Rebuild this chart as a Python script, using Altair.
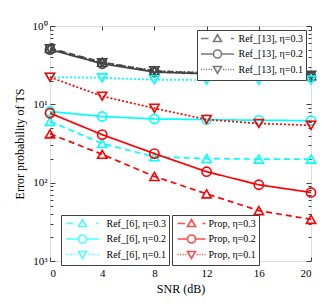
import altair as alt
import pandas as pd

# ---------------- data ----------------
snr = [0, 4, 8, 12, 16, 20]

ref13_labels = ["Ref_[13], η=0.3", "Ref_[13], η=0.2", "Ref_[13], η=0.1"]
ref13_03 = [0.52, 0.345, 0.265, 0.25, 0.243, 0.232]
ref13_02 = [0.50, 0.330, 0.258, 0.245, 0.238, 0.226]
ref13_01 = [0.51, 0.340, 0.268, 0.252, 0.246, 0.234]

ref6_labels = ["Ref_[6], η=0.3", "Ref_[6], η=0.2", "Ref_[6], η=0.1"]
ref6_03 = [0.0605, 0.0316, 0.0214, 0.0203, 0.0200, 0.0200]
ref6_02 = [0.081, 0.070, 0.065, 0.064, 0.0625, 0.062]
ref6_01 = [0.222, 0.218, 0.206, 0.204, 0.204, 0.204]

prop_labels = ["Prop, η=0.3", "Prop, η=0.2", "Prop, η=0.1"]
prop_03 = [0.042, 0.023, 0.012, 0.0072, 0.0044, 0.0034]
prop_02 = [0.077, 0.041, 0.0235, 0.0138, 0.0094, 0.0075]
prop_01 = [0.222, 0.127, 0.089, 0.064, 0.057, 0.054]

x_ticks = [0, 4, 8, 12, 16, 20]
y_major = [0.001, 0.01, 0.1, 1]
y_minor = [m * 10.0 ** e for e in (-3, -2, -1) for m in range(2, 10)]

# ---------------- styling ----------------
W, H = 261, 235
FONT = "Liberation Serif"
FRAME = "#404040"
RED, CYAN, GRAY = "#ff0000", "#00ffff", "#444444"
DASHES = [[6, 4], [1, 0], [2, 2]]
SHAPES = ["triangle-up", "circle", "triangle-down"]
LW = 1.7

tri_up = "M-0.8,0.6L0,-0.8L0.8,0.6Z"
tri_dn = "M-0.8,-0.6L0,0.8L0.8,-0.6Z"
circ = "M0.8,0A0.8,0.8,0,1,1,-0.8,0A0.8,0.8,0,1,1,0.8,0Z"


def legend_paths(hw):
    dash_line = f"M{-hw:.2f},0H{-hw + 1.5:.2f}M{hw - 0.6:.2f},0H{hw:.2f}"
    solid_line = f"M{-hw:.2f},0H-0.8M0.8,0H{hw:.2f}"
    dots = []
    v = -hw
    while v < -1.0:
        dots.append(v)
        v += 0.5
    dots += [-d - 0.22 for d in dots]
    dot_line = "".join(f"M{d:.2f},0h0.22" for d in dots)
    return [dash_line + tri_up, solid_line + circ, dot_line + tri_dn]


x_scale = alt.Scale(domain=[0, 20], nice=False, zero=False)
y_scale = alt.Scale(type="log", domain=[0.001, 1], nice=False)

DEC = "abs(log(datum.value)/LN10 - round(log(datum.value)/LN10)) < 0.001"

ax_x_main = alt.Axis(orient="bottom", values=x_ticks, ticks=False, domain=False, grid=False,
                     labelFont=FONT, labelFontSize=11, labelColor="black", labelPadding=6,
                     title="SNR (dB)", titleFont=FONT, titleFontSize=12, titleFontWeight="normal",
                     titleColor="black", titlePadding=5)
ax_y_main = alt.Axis(orient="left", values=y_major, ticks=False, domain=False, grid=False,
                     labelExpr="datum.value > 0.5 ? '10⁰' : datum.value > 0.05 ? '10¹' : datum.value > 0.005 ? '10²' : '10³'",
                     labelFont=FONT, labelFontSize=11, labelColor="black", labelPadding=3,
                     title="Error probability of TS", titleFont=FONT, titleFontSize=12,
                     titleFontWeight="normal", titleColor="black", titlePadding=6)
tick_y = {"condition": {"test": DEC, "value": 5}, "value": 3}
ax_x_in_b = alt.Axis(orient="top", offset=-H, values=x_ticks, labels=False, domain=False, grid=False,
                     tickSize=4, tickColor=FRAME, title=None)
ax_x_in_t = alt.Axis(orient="bottom", offset=-H, values=x_ticks, labels=False, domain=False, grid=False,
                     tickSize=4, tickColor=FRAME, title=None)
ax_y_in_l = alt.Axis(orient="right", offset=-W, values=y_major + y_minor, labels=False, domain=False,
                     grid=False, tickSize=tick_y, tickColor=FRAME, title=None)
ax_y_in_r = alt.Axis(orient="left", offset=-W, values=y_major + y_minor, labels=False, domain=False,
                     grid=False, tickSize=tick_y, tickColor=FRAME, title=None)


def frame(labels, series):
    rows = []
    for lab, vals in zip(labels, series):
        for s, v in zip(snr, vals):
            rows.append({"snr": s, "val": v, "series": lab})
    return pd.DataFrame(rows)


def legend_for(lx, ly, sym_off, lab_off):
    return alt.Legend(orient="none", legendX=lx, legendY=ly, title=None, direction="vertical",
                      strokeColor=FRAME, fillColor="white", padding=2.5, symbolSize=100,
                      symbolOffset=sym_off, labelOffset=lab_off, labelFont=FONT, labelFontSize=10,
                      labelColor="black", rowPadding=0.5, symbolStrokeWidth=1.6,
                      symbolFillColor="transparent")


def group(labels, series, color, ax_x, ax_y):
    df = frame(labels, series)
    x = alt.X("snr:Q", scale=x_scale, axis=ax_x)
    y = alt.Y("val:Q", scale=y_scale, axis=ax_y)
    col = alt.Color("series:N", scale=alt.Scale(domain=labels, range=[color] * 3), legend=None)
    line = alt.Chart(df).mark_line(strokeWidth=LW).encode(
        x=x, y=y, color=col,
        strokeDash=alt.StrokeDash("series:N", scale=alt.Scale(domain=labels, range=DASHES), legend=None),
    )
    pts = alt.Chart(df).mark_point(filled=False, strokeWidth=1.6, size=85, opacity=1).encode(
        x=x, y=y, color=col,
        shape=alt.Shape("series:N", scale=alt.Scale(domain=labels, range=SHAPES), legend=None),
    )
    return alt.layer(line, pts)


def legend_layer(labels, series, color, lx, ly, hw, sym_off, lab_off):
    df = frame(labels, series)
    lg = legend_for(lx, ly, sym_off, lab_off)
    return alt.Chart(df).transform_filter("false").mark_point(filled=False, strokeWidth=1.6).encode(
        color=alt.Color("series:N", scale=alt.Scale(domain=labels, range=[color] * 3), legend=lg),
        shape=alt.Shape("series:N", scale=alt.Scale(domain=labels, range=legend_paths(hw)), legend=lg),
    )


g13 = group(ref13_labels, [ref13_03, ref13_02, ref13_01], GRAY, ax_x_in_b, ax_y_in_l)
g6 = group(ref6_labels, [ref6_03, ref6_02, ref6_01], CYAN, ax_x_in_t, ax_y_in_r)
gp = group(prop_labels, [prop_03, prop_02, prop_01], RED, ax_x_main, ax_y_main)
l13 = legend_layer(ref13_labels, [ref13_03, ref13_02, ref13_01], GRAY, 147, 4, 3.3, 12, 15)
l6 = legend_layer(ref6_labels, [ref6_03, ref6_02, ref6_01], CYAN, 11, 189, 3.3, 13, 18)
lp = legend_layer(prop_labels, [prop_03, prop_02, prop_01], RED, 122, 189, 2.8, 11, 11)

chart = (
    alt.layer(g13, g6, gp, l13, l6, lp)
    .resolve_scale(color="independent", strokeDash="independent", shape="independent")
    .resolve_axis(x="independent", y="independent")
    .resolve_legend(color="independent", shape="independent")
    .properties(width=W, height=H, padding={"left": 5, "top": 12, "right": 5, "bottom": 5})
    .configure_view(stroke=FRAME, strokeWidth=1)
    .configure(background="white")
)

chart.save("out.html", embed_options={"renderer": "svg", "actions": False})
